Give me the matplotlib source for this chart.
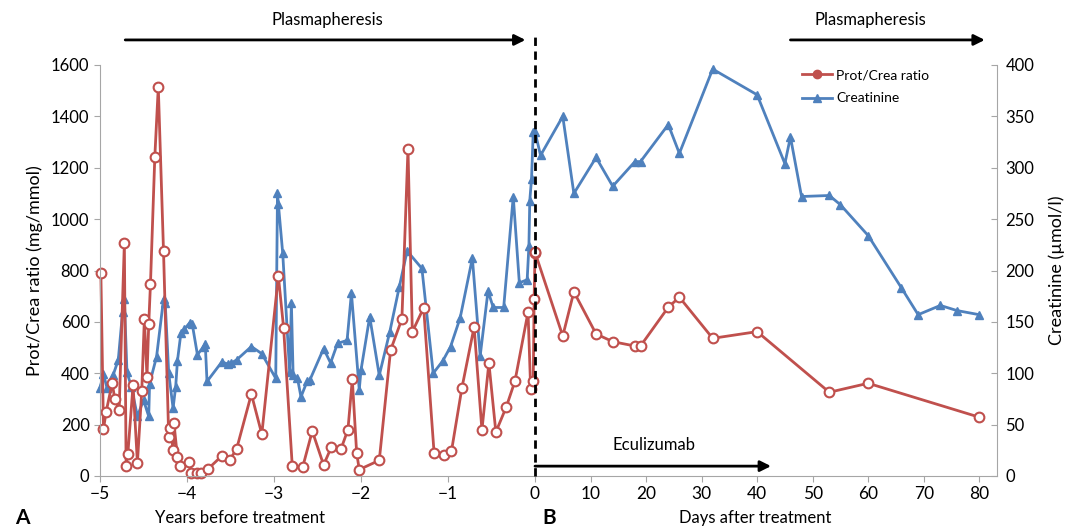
import matplotlib
matplotlib.use("Agg")
import matplotlib.pyplot as plt
from matplotlib.lines import Line2D

plt.rcParams['font.family'] = ['Lato', 'DejaVu Sans']

# Panel A: years before treatment
years_pc = [-4.99, -4.96, -4.93, -4.86, -4.83, -4.78, -4.72, -4.70, -4.68, -4.62,
            -4.57, -4.52, -4.49, -4.46, -4.44, -4.42, -4.37, -4.33, -4.27, -4.21,
            -4.19, -4.16, -4.15, -4.11, -4.08, -3.98, -3.95, -3.88, -3.84, -3.76,
            -3.60, -3.51, -3.43, -3.26, -3.14, -2.95, -2.89, -2.79, -2.67, -2.56,
            -2.43, -2.34, -2.23, -2.15, -2.10, -2.05, -2.02, -1.79, -1.66, -1.53,
            -1.46, -1.41, -1.28, -1.16, -1.05, -0.96, -0.84, -0.70, -0.61, -0.53,
            -0.45, -0.33, -0.23, -0.08, -0.05, -0.02, -0.01, 0.0]
prot_crea_a = [790, 183, 249, 362, 300, 257, 907, 39, 86, 354,
               51, 331, 613, 385, 590, 747, 1242, 1514, 876, 150,
               187, 101, 206, 74, 39, 54, 12, 12, 12, 27,
               78, 62, 105, 319, 163, 779, 578, 39, 35, 175,
               43, 113, 105, 181, 376, 90, 25, 61, 490, 611,
               1274, 561, 655, 90, 82, 97, 343, 580, 179, 440,
               171, 269, 370, 638, 340, 370, 690, 870]

years_cr = [-5.0, -4.96, -4.92, -4.85, -4.79, -4.74, -4.72, -4.69, -4.64, -4.57,
            -4.50, -4.44, -4.43, -4.35, -4.27, -4.25, -4.21, -4.16, -4.13, -4.11,
            -4.07, -4.03, -3.97, -3.94, -3.88, -3.81, -3.79, -3.77, -3.60, -3.53,
            -3.49, -3.43, -3.26, -3.14, -2.98, -2.96, -2.95, -2.90, -2.82, -2.80,
            -2.78, -2.73, -2.69, -2.62, -2.59, -2.43, -2.35, -2.27, -2.16, -2.11,
            -2.02, -2.00, -1.90, -1.79, -1.67, -1.56, -1.47, -1.30, -1.17, -1.06,
            -0.97, -0.86, -0.72, -0.63, -0.54, -0.48, -0.36, -0.25, -0.18, -0.09,
            -0.07, -0.06, -0.04, -0.02]
creat_a = [86, 99, 86, 98, 113, 160, 172, 101, 87, 58,
           74, 58, 90, 116, 172, 168, 100, 66, 87, 112,
           139, 143, 149, 148, 118, 126, 128, 92, 111, 109,
           110, 113, 126, 119, 95, 275, 265, 217, 101, 168,
           98, 95, 77, 92, 93, 124, 110, 129, 132, 178,
           84, 103, 155, 98, 140, 184, 219, 202, 100, 112,
           126, 154, 212, 117, 180, 164, 164, 272, 188, 191,
           224, 268, 289, 335]

# Panel B: days after treatment
days_pc = [0, 5, 7, 11, 14, 18, 19, 24, 26, 32, 40, 53, 60, 80]
prot_crea_b = [871, 545, 717, 553, 523, 506, 506, 657, 696, 536, 562, 326, 361, 229]

days_cr = [0, 1, 5, 7, 11, 14, 18, 19, 24, 26, 32, 40, 45, 46, 48, 53, 55, 60, 66, 69, 73, 76, 80]
creat_b = [335, 312, 350, 275, 310, 282, 306, 306, 342, 314, 396, 371, 304, 330, 272,
           273, 264, 234, 183, 157, 166, 161, 157]

red = '#C0504D'
blue = '#4F81BD'
grey = '#A6A6A6'

W, H = 1070, 530
fig = plt.figure(figsize=(W / 100, H / 100), dpi=100)
axA = fig.add_axes([100 / W, 54 / H, 435 / W, 411 / H])
axB = fig.add_axes([535 / W, 54 / H, 462 / W, 411 / H])
axA2 = axA.twinx()
axB2 = axB.twinx()

for ax, ax2 in [(axA, axA2), (axB, axB2)]:
    # red series drawn over the blue one
    ax2.set_zorder(ax.get_zorder() - 1)
    ax.patch.set_visible(False)
    ax.set_ylim(0, 1600)
    ax2.set_ylim(0, 400)
    for s in ['top', 'right', 'left']:
        ax.spines[s].set_visible(False)
    for s in ['top', 'right', 'left', 'bottom']:
        ax2.spines[s].set_visible(False)
    ax.spines['bottom'].set_color(grey)
    ax.tick_params(axis='x', colors=grey, length=4, labelcolor='black', labelsize=12.5)

mk_red = dict(color=red, lw=2, marker='o', markersize=7, markerfacecolor='white',
              markeredgecolor=red, markeredgewidth=1.5, clip_on=False)
mk_blue = dict(color=blue, lw=2, marker='^', markersize=6, markerfacecolor=blue,
               markeredgecolor=blue, clip_on=False)

# Panel A
axA2.plot(years_cr, creat_a, **mk_blue)
axA.plot(years_pc, prot_crea_a, **mk_red)
axA.set_xlim(-5, 0)
axA.set_xticks([-5, -4, -3, -2, -1])
axA.set_xticklabels(['\u22125', '\u22124', '\u22123', '\u22122', '\u22121'])
axA.spines['left'].set_visible(True)
axA.spines['left'].set_color(grey)
axA.set_yticks(range(0, 1601, 200))
axA.tick_params(axis='y', colors=grey, length=4, labelcolor='black', labelsize=12)
axA.set_ylabel('Prot/Crea ratio (mg/mmol)', fontsize=13, labelpad=6)
axA2.set_yticks([])

# Panel B
axB2.plot(days_cr, creat_b, **mk_blue)
axB.plot(days_pc, prot_crea_b, **mk_red)
axB.set_xlim(0, 83.2)
axB.set_xticks(range(0, 81, 10))
axB.set_yticks([])
axB2.spines['right'].set_visible(True)
axB2.spines['right'].set_color(grey)
axB2.set_yticks(range(0, 401, 50))
axB2.tick_params(axis='y', colors=grey, length=4, direction='in', labelcolor='black',
                 labelsize=12, pad=6)
axB2.set_ylabel('Creatinine (\u00b5mol/l)', fontsize=13, labelpad=10)

# treatment start
axB.axvline(0, ymin=0, ymax=1.073, clip_on=False, color='black', lw=2, ls=(0, (3, 2)), zorder=5)

arrow = dict(arrowstyle='-|>', color='black', lw=2, mutation_scale=16, shrinkA=0, shrinkB=0)
axA.annotate('', xy=(-0.11, 1.061), xytext=(-4.71, 1.061), xycoords=('data', 'axes fraction'),
             arrowprops=arrow, annotation_clip=False)
axA.text(-2.39, 1.109, 'Plasmapheresis', transform=axA.get_xaxis_transform(),
         ha='center', va='center', fontsize=12)
axB.annotate('', xy=(81.0, 1.061), xytext=(46.0, 1.061), xycoords=('data', 'axes fraction'),
             arrowprops=arrow, annotation_clip=False)
axB.text(60.4, 1.109, 'Plasmapheresis', transform=axB.get_xaxis_transform(),
         ha='center', va='center', fontsize=12)
axB.annotate('', xy=(42.5, 0.024), xytext=(0, 0.024), xycoords=('data', 'axes fraction'),
             arrowprops=arrow, annotation_clip=False)
axB.text(21.4, 0.075, 'Eculizumab', transform=axB.get_xaxis_transform(),
         ha='center', va='center', fontsize=12)

handles = [Line2D([], [], color=red, lw=2, marker='o', markersize=6, markerfacecolor=red),
           Line2D([], [], color=blue, lw=2, marker='^', markersize=6, markerfacecolor=blue)]
axB.legend(handles, ['Prot/Crea ratio', 'Creatinine'], loc='upper left',
           bbox_to_anchor=(0.55, 1.02), frameon=False, fontsize=10, handlelength=2.2,
           handletextpad=0.3, labelspacing=0.8)

fig.text(240 / W, 1 - 518 / H, 'Years before treatment', ha='center', va='center', fontsize=12)
fig.text(755 / W, 1 - 518 / H, 'Days after treatment', ha='center', va='center', fontsize=12)
fig.text(15 / W, 1 - 518 / H, 'A', ha='left', va='center', fontsize=15, fontweight='bold')
fig.text(542 / W, 1 - 518 / H, 'B', ha='left', va='center', fontsize=15, fontweight='bold')

fig.savefig('out.png', dpi=100)
